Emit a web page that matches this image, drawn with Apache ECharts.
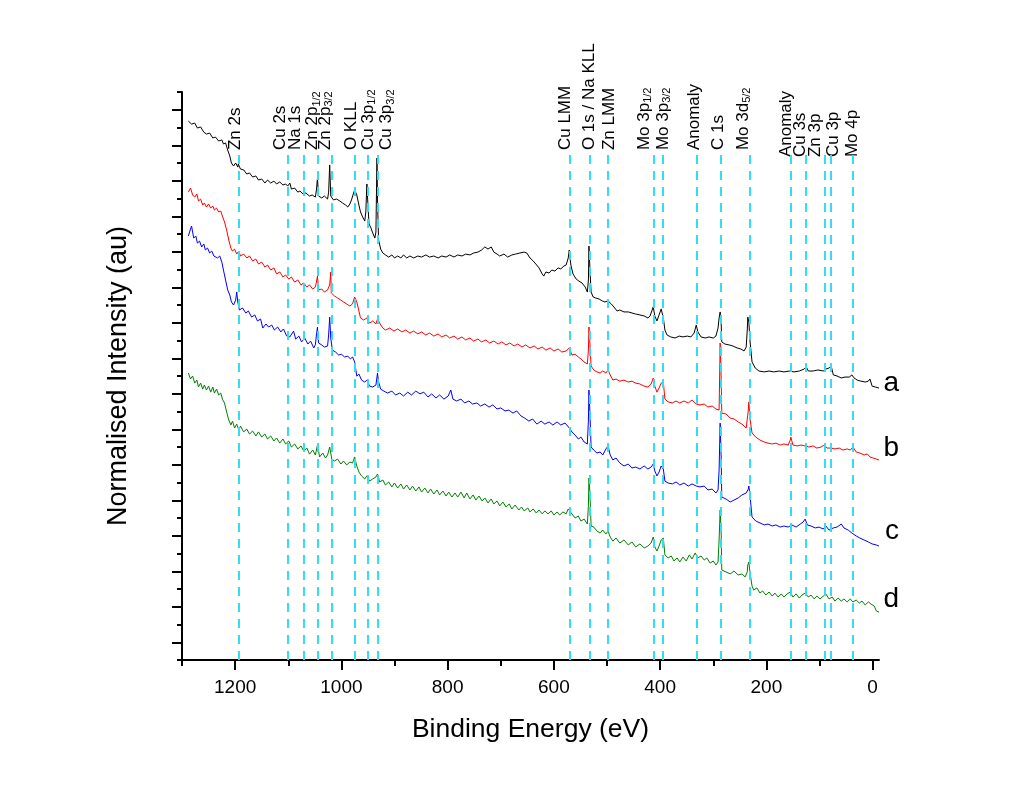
<!DOCTYPE html>
<html><head><meta charset="utf-8">
<script src="https://cdn.jsdelivr.net/npm/echarts@6/dist/echarts.min.js"></script>
<style>html,body{margin:0;padding:0;background:#fff}#c{width:1024px;height:791px}</style>
</head><body><div id="c"></div>
<script>
const xTicksMajor = [0, 200, 400, 600, 800, 1000, 1200];
const xTicksMinor = [100, 300, 500, 700, 900, 1100, 1300];
const peakEnergies = [1194, 1101, 1070, 1044, 1018, 974, 951, 931, 570, 532, 499, 412, 395, 331, 286, 231, 154, 125, 91, 79, 38];
const peakLabels = ['Zn 2s', 'Cu 2s', 'Na 1s', 'Zn 2p{s|1/2}', 'Zn 2p{s|3/2}', 'O KLL', 'Cu 3p{s|1/2}', 'Cu 3p{s|3/2}',
  'Cu LMM', 'O 1s / Na KLL', 'Zn LMM', 'Mo 3p{s|1/2}', 'Mo 3p{s|3/2}', 'Anomaly', 'C 1s', 'Mo 3d{s|5/2}',
  'Anomaly', 'Cu 3s', 'Zn 3p', 'Cu 3p', 'Mo 4p'];
const seriesNames = ['a', 'b', 'c', 'd'];

const seriesA = [[1288,30.36],[1282,30.19],[1276,30.25],[1271,29.97],[1265,30.03],[1259,29.74],[1254,29.63],[1248,29.69],[1242,29.41],[1237,29.46],[1231,29.24],[1225,29.30],[1222,29.07],[1218,29.13],[1214,28.73],[1210,28.39],[1207,28.00],[1203,27.83],[1199,28.00],[1195,27.77],[1194,27.94],[1190,27.66],[1184,27.61],[1178,27.38],[1173,27.44],[1167,27.21],[1161,27.27],[1156,27.04],[1150,27.10],[1144,26.87],[1139,27.04],[1133,26.87],[1127,26.98],[1122,26.82],[1116,26.93],[1110,26.76],[1105,26.82],[1101,26.70],[1097,26.87],[1094,26.53],[1088,26.59],[1082,26.36],[1078,26.42],[1072,26.25],[1067,26.31],[1060,26.14],[1055,26.20],[1049,26.08],[1047,26.48],[1045,27.15],[1043,26.14],[1037,26.03],[1032,26.14],[1026,25.97],[1024,26.36],[1022,27.89],[1020,26.14],[1015,25.92],[1009,25.97],[1003,25.86],[998,25.75],[992,25.63],[988,25.52],[984,25.69],[981,25.92],[977,26.31],[975,26.48],[971,26.20],[967,25.63],[964,25.24],[960,24.96],[956,24.73],[954,25.24],[952,26.82],[950,25.63],[948,24.56],[945,24.39],[941,24.06],[937,23.77],[935,24.11],[933,28.28],[932,25.92],[930,23.66],[926,23.15],[922,22.93],[917,22.82],[911,22.70],[905,22.82],[900,22.65],[894,22.76],[888,22.65],[883,22.82],[877,22.65],[871,22.76],[864,22.65],[856,22.76],[849,22.70],[841,22.82],[834,22.70],[826,22.76],[818,22.65],[811,22.76],[803,22.70],[796,22.82],[788,22.70],[781,22.82],[773,22.76],[766,22.87],[758,22.82],[751,22.93],[743,22.98],[736,23.10],[730,23.27],[724,23.15],[718,23.27],[713,22.98],[707,22.87],[702,22.76],[694,22.87],[687,22.70],[679,22.82],[672,22.87],[664,22.93],[656,22.98],[651,22.93],[645,22.65],[639,22.48],[634,22.31],[628,22.09],[622,21.75],[619,21.63],[615,21.86],[609,21.80],[604,21.97],[598,21.91],[592,22.09],[587,22.03],[581,22.20],[577,22.25],[573,22.65],[571,23.10],[570,22.76],[568,22.25],[564,21.75],[558,21.46],[553,21.35],[547,21.24],[541,21.01],[537,20.73],[535,21.41],[534,23.32],[532,21.97],[530,20.73],[526,20.45],[521,20.39],[515,20.34],[509,20.23],[504,20.17],[498,20.23],[492,20.06],[487,19.89],[481,19.66],[476,19.72],[468,19.61],[460,19.61],[453,19.55],[446,19.49],[438,19.44],[430,19.38],[423,19.27],[419,19.38],[415,19.72],[413,19.89],[410,19.38],[406,19.10],[402,19.44],[398,19.78],[394,19.27],[391,18.59],[387,18.31],[380,18.20],[372,18.14],[364,18.25],[357,18.20],[349,18.25],[342,18.20],[336,18.42],[332,18.87],[329,18.48],[323,18.20],[315,18.14],[308,18.20],[300,18.14],[295,18.25],[291,18.70],[289,19.27],[287,19.61],[285,18.87],[284,17.92],[278,17.80],[270,17.75],[263,17.69],[255,17.58],[248,17.52],[242,17.41],[238,17.63],[236,18.59],[235,19.32],[233,19.04],[231,18.03],[227,16.79],[221,16.45],[214,16.28],[204,16.23],[195,16.28],[186,16.23],[176,16.28],[167,16.23],[157,16.28],[148,16.23],[138,16.28],[129,16.39],[125,16.51],[121,16.28],[112,16.28],[103,16.34],[93,16.28],[88,16.39],[82,16.45],[78,16.56],[74,16.06],[67,16.00],[59,15.89],[52,15.94],[44,15.94],[39,16.06],[35,15.89],[29,15.77],[22,15.71],[14,15.66],[8,15.71],[5,15.83],[1,15.43],[-5,15.38],[-12,15.32]];

const seriesB = [[1288,26.36],[1284,26.59],[1280,26.20],[1276,26.08],[1272,26.25],[1269,25.86],[1265,25.97],[1261,25.63],[1258,25.75],[1254,25.52],[1250,25.69],[1246,25.46],[1242,25.58],[1239,25.35],[1235,25.46],[1231,25.24],[1227,25.29],[1224,25.01],[1220,24.68],[1216,24.23],[1212,23.66],[1208,23.21],[1205,23.04],[1201,23.15],[1197,22.87],[1193,23.04],[1190,22.76],[1184,22.87],[1178,22.65],[1173,22.76],[1167,22.48],[1161,22.59],[1156,22.31],[1150,22.42],[1144,22.14],[1139,22.25],[1133,21.97],[1127,22.09],[1122,21.75],[1116,21.86],[1110,21.58],[1105,21.69],[1099,21.46],[1094,21.58],[1088,21.29],[1082,21.41],[1076,21.13],[1071,21.24],[1065,21.01],[1060,21.13],[1054,20.90],[1049,21.01],[1047,21.29],[1045,21.63],[1043,20.85],[1037,20.90],[1032,20.73],[1026,20.85],[1022,21.13],[1020,21.86],[1019,20.68],[1013,20.51],[1007,20.39],[1001,20.28],[996,20.17],[990,20.06],[984,19.94],[979,20.06],[975,20.45],[971,20.17],[967,19.66],[964,19.27],[958,19.15],[952,19.27],[947,18.98],[941,19.10],[935,18.93],[932,19.21],[928,18.98],[922,18.70],[917,18.59],[909,18.70],[901,18.53],[894,18.65],[886,18.48],[879,18.59],[871,18.42],[864,18.53],[856,18.37],[849,18.48],[841,18.31],[834,18.42],[826,18.25],[818,18.37],[811,18.20],[803,18.31],[796,18.14],[788,18.25],[781,18.08],[773,18.20],[766,18.03],[758,18.14],[751,17.97],[743,18.08],[736,17.92],[728,18.03],[721,17.86],[713,17.97],[705,17.80],[698,17.92],[690,17.75],[683,17.86],[675,17.69],[668,17.80],[660,17.63],[653,17.75],[645,17.58],[637,17.69],[630,17.52],[622,17.63],[615,17.46],[607,17.58],[600,17.41],[592,17.52],[585,17.35],[577,17.41],[571,17.58],[566,17.18],[560,17.23],[554,17.07],[549,16.96],[543,16.79],[537,16.68],[535,17.46],[534,18.76],[532,17.75],[530,16.56],[525,16.34],[519,16.23],[513,16.17],[508,16.28],[502,16.17],[498,16.34],[494,16.06],[489,15.77],[483,15.83],[476,15.71],[468,15.77],[460,15.66],[453,15.71],[446,15.60],[438,15.55],[430,15.43],[423,15.38],[417,15.55],[413,15.88],[410,15.43],[406,15.09],[402,15.32],[398,15.60],[394,15.66],[391,14.70],[385,14.54],[377,14.48],[370,14.59],[363,14.48],[355,14.59],[347,14.48],[340,14.65],[332,14.42],[325,14.37],[317,14.42],[310,14.25],[302,14.31],[295,14.14],[289,14.08],[287,17.86],[285,15.77],[284,13.91],[276,13.86],[268,13.63],[261,13.58],[253,13.41],[246,13.29],[238,13.07],[234,14.08],[233,14.54],[231,13.63],[227,12.79],[220,12.56],[212,12.39],[204,12.28],[197,12.22],[189,12.17],[182,12.22],[174,12.11],[167,12.17],[159,12.11],[155,12.39],[154,12.56],[150,12.11],[142,12.06],[135,12.11],[127,12.06],[120,12.00],[112,12.06],[105,11.94],[97,12.00],[91,12.11],[90,12.22],[86,11.94],[78,11.94],[71,11.89],[63,11.94],[56,11.83],[48,11.89],[42,11.83],[37,12.00],[31,11.72],[24,11.66],[16,11.55],[10,11.61],[5,11.44],[-1,11.38],[-7,11.32],[-12,11.27]];

const seriesC = [[1288,23.89],[1284,24.28],[1282,24.45],[1278,23.77],[1274,23.89],[1271,23.49],[1267,23.60],[1263,23.27],[1259,23.44],[1256,23.10],[1252,23.21],[1248,22.93],[1244,23.04],[1240,22.76],[1237,22.87],[1233,22.65],[1229,22.76],[1225,22.42],[1222,21.97],[1218,21.41],[1214,20.85],[1210,20.56],[1207,20.17],[1203,20.00],[1199,20.28],[1197,20.73],[1195,20.17],[1192,19.72],[1186,19.83],[1180,19.55],[1175,19.66],[1169,19.32],[1163,19.44],[1158,19.10],[1152,19.21],[1148,18.70],[1142,18.93],[1137,18.76],[1131,18.87],[1126,18.59],[1120,18.76],[1114,18.48],[1109,18.65],[1103,18.25],[1097,18.20],[1090,18.53],[1086,18.08],[1080,18.25],[1075,17.92],[1069,18.14],[1063,17.80],[1058,17.97],[1052,17.58],[1049,17.75],[1047,18.31],[1045,18.76],[1043,17.86],[1037,17.75],[1032,17.63],[1026,17.69],[1024,18.31],[1022,19.32],[1020,18.14],[1017,17.46],[1011,17.35],[1005,17.18],[1000,17.23],[994,17.07],[988,17.12],[983,16.96],[979,17.07],[975,16.79],[971,15.99],[967,16.11],[962,15.77],[956,15.66],[952,15.77],[947,15.43],[941,15.38],[935,15.49],[932,16.17],[930,15.66],[926,15.26],[920,15.15],[913,15.04],[905,15.15],[898,14.93],[890,15.04],[883,14.87],[875,15.09],[868,14.93],[860,15.15],[852,14.99],[845,15.09],[837,14.82],[830,14.99],[822,14.76],[815,14.93],[807,14.70],[799,14.87],[794,15.21],[790,14.70],[783,14.59],[775,14.70],[768,14.48],[760,14.59],[753,14.42],[745,14.48],[738,14.31],[730,14.42],[722,14.25],[715,14.37],[707,14.14],[700,14.20],[692,14.03],[685,14.08],[677,13.91],[670,14.03],[662,13.75],[655,13.63],[647,13.46],[640,13.58],[632,13.29],[624,13.46],[617,13.29],[609,13.41],[602,13.24],[594,13.41],[587,13.24],[579,13.35],[571,13.07],[566,12.85],[560,12.67],[554,12.45],[549,12.56],[543,12.28],[537,12.17],[535,13.52],[534,15.21],[532,13.80],[530,12.00],[525,11.83],[519,11.66],[513,11.72],[508,11.55],[502,11.89],[498,12.06],[494,11.55],[489,11.27],[483,11.38],[476,11.10],[468,10.93],[460,11.04],[453,10.82],[446,10.87],[438,10.76],[430,10.93],[423,10.76],[417,10.87],[413,11.04],[410,10.65],[406,10.37],[402,10.59],[398,10.93],[394,10.76],[391,10.08],[385,9.97],[377,9.92],[370,10.03],[363,9.86],[355,9.97],[347,9.80],[340,9.92],[332,9.80],[325,9.75],[317,9.80],[310,9.58],[302,9.63],[295,9.41],[291,9.58],[289,10.70],[287,13.35],[285,11.27],[284,9.18],[276,9.07],[268,8.90],[261,9.01],[253,9.13],[246,9.30],[238,9.41],[234,9.63],[233,9.80],[231,9.30],[227,8.06],[220,7.83],[212,7.72],[204,7.61],[197,7.66],[189,7.55],[182,7.61],[174,7.49],[167,7.55],[159,7.49],[152,7.61],[144,7.49],[136,7.66],[131,7.77],[127,7.94],[123,7.61],[116,7.55],[108,7.44],[101,7.49],[93,7.38],[88,7.55],[82,7.32],[74,7.44],[67,7.49],[59,7.66],[54,7.44],[46,7.32],[39,7.15],[31,6.99],[24,6.87],[16,6.76],[8,6.65],[1,6.54],[-7,6.48],[-12,6.42]];

const seriesD = [[1288,16.17],[1284,15.83],[1280,16.00],[1276,15.60],[1272,15.77],[1269,15.38],[1265,15.60],[1261,15.26],[1258,15.49],[1254,15.21],[1250,15.43],[1246,15.09],[1242,15.38],[1239,15.04],[1235,15.26],[1231,14.93],[1227,15.04],[1224,14.70],[1220,14.48],[1216,13.97],[1212,13.52],[1208,13.24],[1205,13.46],[1201,13.07],[1197,13.29],[1193,12.96],[1190,13.18],[1184,12.85],[1178,13.01],[1173,12.73],[1167,12.90],[1161,12.62],[1156,12.85],[1150,12.56],[1144,12.73],[1139,12.45],[1133,12.62],[1127,12.34],[1122,12.51],[1116,12.22],[1110,12.45],[1105,12.17],[1099,12.34],[1094,12.00],[1088,12.17],[1082,11.89],[1076,12.06],[1071,11.77],[1065,11.94],[1060,11.60],[1054,11.83],[1049,11.55],[1045,12.11],[1041,11.44],[1035,11.66],[1030,11.38],[1026,11.55],[1022,12.00],[1018,11.32],[1013,11.21],[1007,11.32],[1001,11.04],[996,11.21],[990,10.99],[984,11.15],[979,11.10],[975,11.44],[971,10.93],[967,10.59],[962,10.37],[956,10.20],[952,10.37],[947,10.08],[941,10.20],[935,10.31],[932,10.48],[928,10.03],[922,10.14],[917,9.86],[911,10.03],[905,9.75],[900,9.97],[894,9.69],[888,9.92],[883,9.63],[877,9.86],[871,9.58],[866,9.80],[860,9.52],[854,9.75],[849,9.46],[843,9.69],[837,9.41],[832,9.63],[826,9.35],[820,9.58],[815,9.30],[809,9.52],[803,9.24],[798,9.46],[792,9.18],[786,9.41],[781,9.18],[775,9.46],[769,9.13],[764,9.41],[758,9.07],[752,9.30],[747,9.01],[741,9.24],[735,8.96],[730,9.13],[724,8.85],[718,9.07],[713,8.79],[707,8.96],[702,8.68],[696,8.90],[690,8.62],[684,8.79],[679,8.51],[673,8.73],[666,8.45],[661,8.62],[656,8.40],[649,8.56],[645,8.34],[639,8.51],[633,8.28],[628,8.45],[622,8.23],[617,8.40],[611,8.23],[605,8.40],[600,8.17],[594,8.34],[589,8.17],[583,8.34],[577,8.23],[573,8.51],[570,8.62],[566,8.23],[560,8.00],[554,8.11],[549,7.83],[543,7.94],[537,7.66],[535,8.73],[534,10.25],[532,9.30],[530,7.55],[525,7.49],[519,7.27],[513,7.15],[508,7.32],[502,7.10],[498,7.27],[494,6.93],[489,6.70],[483,6.87],[476,6.59],[468,6.76],[460,6.48],[453,6.65],[446,6.37],[438,6.54],[430,6.31],[423,6.42],[417,6.59],[413,6.93],[410,6.37],[406,6.14],[402,6.42],[398,6.76],[394,6.87],[391,5.92],[385,5.75],[379,5.86],[374,5.58],[368,5.75],[363,5.52],[357,5.80],[351,5.58],[345,5.92],[340,5.69],[334,6.03],[329,5.75],[323,5.86],[317,5.63],[312,5.75],[306,5.46],[300,5.58],[295,5.35],[291,5.52],[289,6.76],[287,8.45],[285,7.04],[284,5.07],[276,4.96],[268,4.85],[261,5.01],[253,4.79],[246,4.85],[240,4.68],[236,4.96],[235,5.35],[233,5.52],[231,4.96],[227,4.17],[224,3.94],[218,4.06],[212,3.77],[207,3.89],[201,3.66],[195,3.83],[189,3.60],[184,3.77],[178,3.55],[172,3.72],[167,3.55],[161,3.72],[155,3.83],[150,3.55],[144,3.72],[138,3.49],[133,3.66],[127,3.77],[121,3.55],[116,3.66],[110,3.44],[105,3.60],[99,3.44],[93,3.60],[88,3.72],[82,3.44],[76,3.55],[71,3.32],[65,3.49],[59,3.32],[54,3.44],[48,3.27],[42,3.44],[37,3.27],[31,3.38],[25,3.21],[20,3.32],[14,3.10],[8,3.27],[3,3.15],[-3,3.04],[-7,2.76],[-12,2.70]];

const FONT = '"Liberation Sans", Arial, sans-serif';
const LINE_TOP = 28.45;
const LABEL_Y = 28.7;
const colors = ['#000000', '#ff0000', '#0000ff', '#008000'];
const endOffsets = [[24, -5], [24, -12], [24, -15], [24, -13]];
// screen-space nudges of the rotated peak labels (px): horizontal, vertical
const labelShiftX = [-3, -7, -8, -5, -6, -3, 1, 9, -4, 0, 2, -9, 1, -2, -2, -6, -4, -5, -8, 3, 0];
const labelShiftY = [0, 0, 0, 0, 0, 0, 0, 0, 0, 0, 0, 0, 0, 0, 0, 0, 7, 7, 7, 7, 7];
const allSeries = [seriesA, seriesB, seriesC, seriesD];

const chart = echarts.init(document.getElementById('c'), null, {renderer: 'canvas'});
const lineSeries = allSeries.map((d, i) => ({
  type: 'line', name: seriesNames[i], data: d, xAxisIndex: 0, yAxisIndex: 0,
  showSymbol: false, symbol: 'none', animation: false, silent: true,
  lineStyle: {color: colors[i], width: 1}, itemStyle: {color: colors[i]},
  endLabel: {show: true, formatter: seriesNames[i], fontSize: 28, fontFamily: FONT, color: '#000',
    distance: 4, offset: endOffsets[i]}
}));

const option = {
  backgroundColor: '#fff',
  animation: false,
  grid: {left: 182, right: 145, top: 92, bottom: 131},
  xAxis: [{
    type: 'value', inverse: true, min: -12, max: 1300, position: 'bottom',
    name: 'Binding Energy (eV)', nameLocation: 'middle', nameGap: 56,
    nameTextStyle: {fontSize: 26.5, fontFamily: FONT, color: '#000'},
    axisLine: {show: true, onZero: false, lineStyle: {color: '#000', width: 2}},
    axisTick: {show: true, customValues: xTicksMajor, length: 10, inside: false, lineStyle: {color: '#000', width: 2}},
    axisLabel: {show: true, customValues: xTicksMajor, fontSize: 19, fontFamily: FONT, color: '#000', margin: 18,
      formatter: v => String(v)},
    splitLine: {show: false}
  }, {
    type: 'value', inverse: true, min: -12, max: 1300, position: 'bottom', gridIndex: 0,
    axisLine: {show: false},
    axisTick: {show: true, customValues: xTicksMinor, length: 6, inside: false, lineStyle: {color: '#000', width: 2}},
    axisLabel: {show: false},
    splitLine: {show: false}
  }],
  yAxis: [{
    type: 'value', min: 0, max: 32, interval: 2,
    name: 'Normalised Intensity (au)', nameLocation: 'middle', nameGap: 50,
    nameTextStyle: {fontSize: 27, fontFamily: FONT, color: '#000'},
    axisLine: {show: true, onZero: false, lineStyle: {color: '#000', width: 2}},
    axisTick: {show: true, length: 5, inside: false, lineStyle: {color: '#000', width: 2}},
    minorTick: {show: true, splitNumber: 2, length: 10, lineStyle: {color: '#000', width: 2}},
    axisLabel: {show: false},
    splitLine: {show: false}
  }],
  series: lineSeries.concat([{
    type: 'scatter', xAxisIndex: 0, yAxisIndex: 0, animation: false, silent: true,
    symbolSize: 1, itemStyle: {color: 'rgba(0,0,0,0)', opacity: 1},
    data: peakEnergies.map((e, i) => ({value: [e, LABEL_Y], label: {offset: [-labelShiftY[i], labelShiftX[i]]}})),
    label: {
      show: true, position: [0, 0], rotate: 90, align: 'left', verticalAlign: 'middle',
      fontSize: 17, fontFamily: FONT, color: '#000', opacity: 1,
      formatter: p => peakLabels[p.dataIndex],
      rich: {s: {fontSize: 11, fontFamily: FONT, color: '#000', padding: [8, 0, 0, 0]}}
    },
    markLine: {
      silent: true, symbol: ['none', 'none'], animation: false,
      label: {show: false},
      lineStyle: {color: '#30e0f0', width: 2, type: [9, 7], opacity: 1},
      data: peakEnergies.map(e => [{coord: [e, 0]}, {coord: [e, LINE_TOP]}])
    },
    z: 1
  }])
};
chart.setOption(option);
</script>
</body></html>
